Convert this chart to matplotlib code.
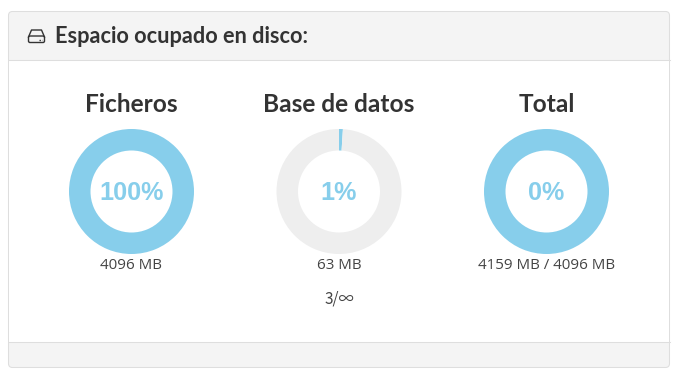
import matplotlib
matplotlib.use("Agg")
import matplotlib.pyplot as plt
from matplotlib.patches import FancyBboxPatch, Rectangle

W, H = 678, 376
panel_title = "Espacio ocupado en disco:"
titles = ["Ficheros", "Base de datos", "Total"]
percent_labels = ["100%", "1%", "0%"]
used = [100, 1, 100]
free = [0, 99, 0]
captions = ["4096 MB", "63 MB", "4159 MB / 4096 MB"]
extra_caption = "3/∞"

BLUE = "#87ceeb"
GREY = "#eeeeee"
DARK = "#333333"
TEXT = "#444444"

fig = plt.figure(figsize=(W / 100, H / 100), dpi=100, facecolor="white")
bg = fig.add_axes([0, 0, 1, 1])
bg.set_xlim(0, W)
bg.set_ylim(H, 0)
bg.axis("off")

# Panel chrome
bg.add_patch(FancyBboxPatch((8.5, 11.5), 661, 356, boxstyle="round,pad=0,rounding_size=4",
                            fc="#f4f4f4", ec="#dedede", lw=0.75, zorder=1))
bg.add_patch(Rectangle((9.0, 59.5), 660, 282, fc="white", ec="none", zorder=2))
bg.plot([8.5, 669.5], [59.5, 59.5], color="#dedede", lw=0.75, zorder=3)
bg.plot([8.5, 669.5], [341.5, 341.5], color="#dedede", lw=0.75, zorder=3)

# Hard-disk icon
bg.add_patch(FancyBboxPatch((28.5, 36), 16, 6.5, boxstyle="round,pad=0,rounding_size=1.5",
                            fc="none", ec=DARK, lw=1.0, zorder=4))
bg.plot([28.5, 31.5, 41.5, 44.5], [37, 30, 30, 37], color=DARK, lw=1.0, zorder=4)
bg.plot([38.5, 41.5], [39.5, 39.5], color=DARK, lw=1.0, ls=(0, (1, 1)), zorder=4)

bg.text(55, 36.5, panel_title, fontsize=15.7, fontweight="bold", family="Lato",
        color=DARK, va="center", ha="left", zorder=4)

centers = [131.5, 339, 546.5]
cy = 191.5
R = 62.5
for cx, title, pct, u, f, cap in zip(centers, titles, percent_labels, used, free, captions):
    ax = fig.add_axes([(cx - R) / W, 1 - (cy + R) / H, 2 * R / W, 2 * R / H])
    ax.pie([u, f], colors=[BLUE, GREY], startangle=90, counterclock=False, radius=1,
           wedgeprops=dict(width=21.5 / R, linewidth=0))
    ax.set_xlim(-1, 1)
    ax.set_ylim(-1, 1)
    ax.text(0, -0.02, pct, fontsize=18.1, fontweight="bold", family="Liberation Sans",
            color=BLUE, ha="center", va="center")
    bg.text(cx, 104.5, title, fontsize=17.6, fontweight="bold", family="Lato",
            color=DARK, ha="center", va="center", zorder=4)
    bg.text(cx, 265.5, cap, fontsize=10.9, family="Open Sans",
            color=TEXT, ha="center", va="center", zorder=4)

bg.text(centers[1], 299.5, extra_caption, fontsize=11, family=["Noto Sans CJK SC", "DejaVu Sans"],
        color=TEXT, ha="center", va="center", zorder=4)

fig.savefig("out.png", dpi=100)
